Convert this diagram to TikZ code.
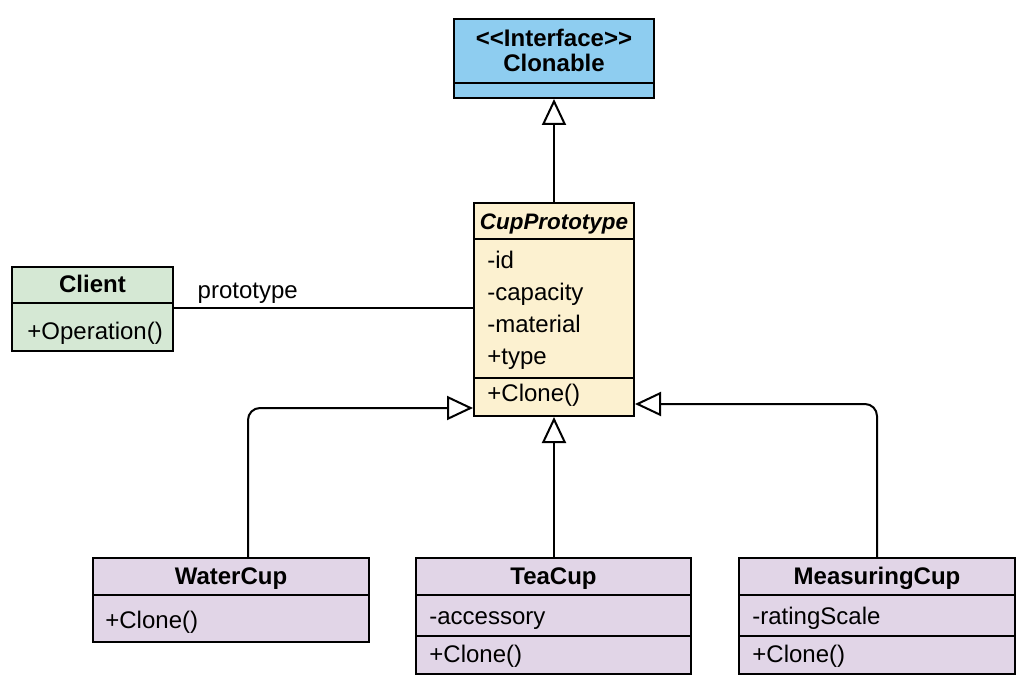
\documentclass[tikz,border=0pt]{standalone}
\usepackage{fontspec}
\setmainfont{Liberation Sans}
\usepackage{tikz}
\usetikzlibrary{arrows.meta,positioning,calc}
\definecolor{ifaceblue}{RGB}{142,205,240}
\definecolor{protoyellow}{RGB}{252,241,208}
\definecolor{clientgreen}{RGB}{213,232,212}
\definecolor{cuppurple}{RGB}{225,213,231}

\tikzset{
    classbox/.style={draw=black, line width=1pt, inner sep=0pt},
    member/.style={anchor=base west, inner sep=0pt, font=\fontsize{12}{14}\selectfont},
    classname/.style={anchor=base, inner sep=0pt, font=\fontsize{12}{14}\selectfont\bfseries},
    divider/.style={line width=1pt},
    inherits/.style={line width=1pt, -{Triangle[open, length=13pt, width=12pt, line width=1pt]}},
}

\begin{document}
\begin{tikzpicture}[x=0.5pt, y=-0.5pt]
    \useasboundingbox (0,0) rectangle (1028,690);

    % interface
    \node[classbox, fill=ifaceblue, minimum width=100pt, minimum height=39.5pt] (clonable) at (554,58.5) {};
    \node[classname] at (554,47) {{<}{<}Interface{>}{>}};
    \node[classname] at (554,72) {Clonable};
    \draw[divider] (clonable.west |- 0,83) -- (clonable.east |- 0,83);

    % abstract prototype
    \node[classbox, fill=protoyellow, minimum width=80pt, minimum height=106.5pt] (proto) at (554,309.5) {};
    \node[classname, font=\fontsize{11.2}{14}\selectfont\bfseries\itshape] at (554,229) {CupPrototype};
    \draw[divider] (proto.west |- 0,239) -- (proto.east |- 0,239);
    \node[member] at (487,268) {-id};
    \node[member] at (487,300) {-capacity};
    \node[member] at (487,332) {-material};
    \node[member] at (487,364) {+type};
    \draw[divider] (proto.west |- 0,378) -- (proto.east |- 0,378);
    \node[member] at (487,401) {+Clone()};

    % client
    \node[classbox, fill=clientgreen, minimum width=80.5pt, minimum height=42pt] (client) at (92.5,309) {};
    \node[classname] at (92.5,292) {Client};
    \draw[divider] (client.west |- 0,303) -- (client.east |- 0,303);
    \node[member] at (27,339) {+Operation()};

    % concrete cups
    \node[classbox, fill=cuppurple, minimum width=138pt, minimum height=42pt] (water) at (231,600) {};
    \node[classname] at (231,584) {WaterCup};
    \draw[divider] (water.west |- 0,595) -- (water.east |- 0,595);
    \node[member] at (105,628) {+Clone()};

    \node[classbox, fill=cuppurple, minimum width=137.5pt, minimum height=58pt] (tea) at (553.5,616) {};
    \node[classname] at (553.5,584) {TeaCup};
    \draw[divider] (tea.west |- 0,595) -- (tea.east |- 0,595);
    \node[member] at (429,624) {-accessory};
    \draw[divider] (tea.west |- 0,636) -- (tea.east |- 0,636);
    \node[member] at (429,662) {+Clone()};

    \node[classbox, fill=cuppurple, minimum width=138pt, minimum height=58pt] (measuring) at (877,616) {};
    \node[classname] at (877,584) {MeasuringCup};
    \draw[divider] (measuring.west |- 0,595) -- (measuring.east |- 0,595);
    \node[member] at (752,624) {-ratingScale};
    \draw[divider] (measuring.west |- 0,636) -- (measuring.east |- 0,636);
    \node[member] at (752,662) {+Clone()};

    % connectors
    \draw[inherits] (proto.north) -- (clonable.south);
    \draw[line width=1pt] ([yshift=0.5pt]client.east) -- ([yshift=0.5pt]client.east -| proto.west)
        node[pos=0, anchor=base west, xshift=8pt, yshift=5pt, font=\fontsize{12}{14}\selectfont] {prototype};
    \draw[inherits, rounded corners=6pt] ([xshift=8.5pt]water.north) |- ($(proto.south west)+(0,-9)$);
    \draw[inherits] (proto.south |- tea.north) -- (proto.south);
    \draw[inherits, rounded corners=6pt] (measuring.north) |- ($(proto.south east)+(0,-13)$);
\end{tikzpicture}
\end{document}
